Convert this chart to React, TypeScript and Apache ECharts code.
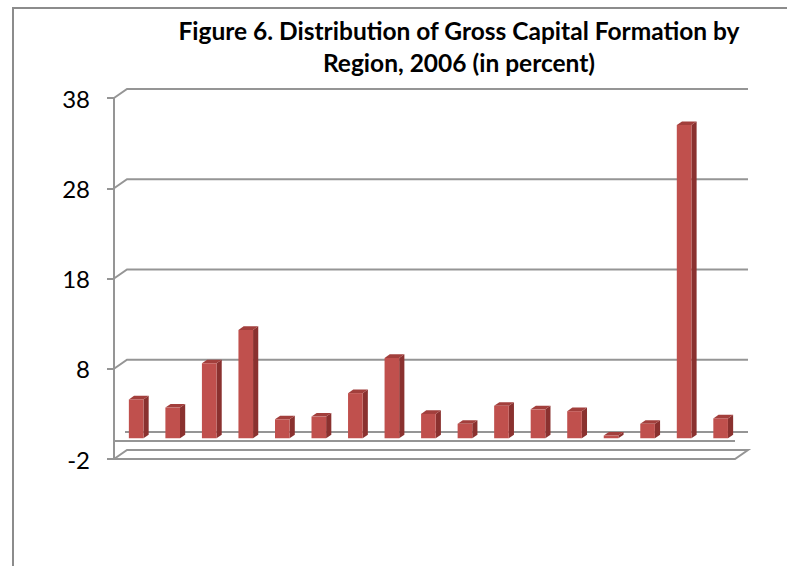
import { useEffect, useRef } from 'react';
import * as echarts from 'echarts';

const TITLE = 'Figure 6. Distribution of Gross Capital Formation by\nRegion, 2006 (in percent)';

// Regions, in the order of the columns
const REGIONS = ['1', '2', '3', '4', '5', '6', '7', '8', '9', '10', '11', '12', '13', '14', '15', '16', '17'];

// Share of gross capital formation, percent
const SHARES = [4.3, 3.4, 8.3, 12.0, 2.1, 2.4, 5.0, 8.9, 2.7, 1.6, 3.6, 3.2, 3.0, 0.3, 1.6, 34.7, 2.2];

// Value axis
const Y_MIN = -2;
const Y_MAX = 38;
const Y_STEP = 10;
const GRID_TICKS = [-2, 8, 18, 28, 38];
const FLOOR_VALUE = 0;

// Perspective offset of the back wall relative to the front plane
const DEPTH_X = 13;
const DEPTH_Y = -9;

const LINE = '#959595';
const FRONT = '#c0504d';
const SIDE = '#8a312f';
const TOP = '#a23f3c';

const seg = (points: number[][]) => ({
  type: 'polyline',
  shape: { points },
  style: { stroke: LINE, lineWidth: 2, fill: null },
  silent: true,
});

// Back-wall gridlines, side-wall diagonals, floor plate
const renderFrame = (params: any, api: any) => {
  const cs = params.coordSys;
  const left = cs.x;
  const right = cs.x + cs.width;
  const children: any[] = [];
  GRID_TICKS.forEach((v) => {
    const y = api.coord([0, v])[1];
    if (v === Y_MIN) {
      children.push(
        seg([
          [left, y],
          [left + DEPTH_X, y + DEPTH_Y],
          [right + DEPTH_X, y + DEPTH_Y],
          [right, y],
          [left, y],
        ])
      );
    } else {
      children.push(
        seg([
          [left, y],
          [left + DEPTH_X, y + DEPTH_Y],
          [right + DEPTH_X, y + DEPTH_Y],
        ])
      );
    }
  });
  const y0 = api.coord([0, FLOOR_VALUE])[1];
  children.push(seg([[left, y0], [right, y0]]));
  children.push(seg([[left + DEPTH_X - 2, y0 + DEPTH_Y], [right + DEPTH_X, y0 + DEPTH_Y]]));
  return { type: 'group', children };
};

// 3D column: front face, right side, top
const renderBar = (_params: any, api: any) => {
  const i = api.value(0);
  const v = api.value(1);
  const band = api.size([1, 0])[0];
  const w = band * 0.4;
  const [cx, yBase] = api.coord([i, FLOOR_VALUE]);
  const yTop = api.coord([i, v])[1];
  const fx = DEPTH_X * 0.3;
  const fy = DEPTH_Y * 0.3;
  const bx = DEPTH_X * 0.4;
  const by = DEPTH_Y * 0.4;
  const x0 = cx - w / 2 + fx;
  const x1 = x0 + w;
  const yb = yBase + fy;
  const yt = yTop + fy;
  return {
    type: 'group',
    children: [
      {
        type: 'polygon',
        shape: { points: [[x1, yt], [x1 + bx, yt + by], [x1 + bx, yb + by], [x1, yb]] },
        style: { fill: SIDE },
      },
      {
        type: 'polygon',
        shape: { points: [[x0, yt], [x0 + bx, yt + by], [x1 + bx, yt + by], [x1, yt]] },
        style: { fill: TOP },
      },
      {
        type: 'rect',
        shape: { x: x0, y: yt, width: w, height: yb - yt },
        style: { fill: FRONT },
      },
    ],
  };
};

export default function App() {
  const ref = useRef<HTMLDivElement>(null);

  useEffect(() => {
    if (!ref.current) return;
    const chart = echarts.init(ref.current, undefined, { renderer: 'svg' });
    chart.setOption({
      animation: false,
      backgroundColor: '#ffffff',
      graphic: [
        {
          type: 'rect',
          shape: { x: 13, y: 8, width: 900, height: 700 },
          style: { fill: null, stroke: '#8c8c8c', lineWidth: 2 },
          silent: true,
        },
        {
          type: 'text',
          x: 459,
          y: 14,
          style: {
            text: TITLE,
            align: 'center',
            verticalAlign: 'top',
            fontFamily: 'Lato',
            fontWeight: 'bold',
            fontSize: 24.5,
            lineHeight: 32,
            fill: '#000000',
          },
          silent: true,
        },
      ],
      grid: { left: 114, top: 98, width: 621, height: 361, containLabel: false },
      xAxis: {
        type: 'category',
        data: REGIONS,
        show: false,
      },
      yAxis: {
        type: 'value',
        min: Y_MIN,
        max: Y_MAX,
        interval: Y_STEP,
        axisLine: { show: true, lineStyle: { color: LINE, width: 2 } },
        axisTick: { show: true, length: 7, lineStyle: { color: LINE, width: 2 } },
        axisLabel: { fontFamily: 'Lato', fontSize: 24, color: '#000000', margin: 24 },
        splitLine: { show: false },
      },
      series: [
        {
          type: 'custom',
          renderItem: renderFrame,
          data: [[0, 0]],
          encode: { x: 0, y: 1 },
          z: 1,
          silent: true,
        },
        {
          type: 'custom',
          renderItem: renderBar,
          data: SHARES.map((v, i) => [i, v]),
          encode: { x: 0, y: 1 },
          z: 2,
        },
      ],
    });
    return () => chart.dispose();
  }, []);

  return <div ref={ref} style={{ position: 'fixed', left: 0, top: 0, width: 787, height: 566 }} />;
}
